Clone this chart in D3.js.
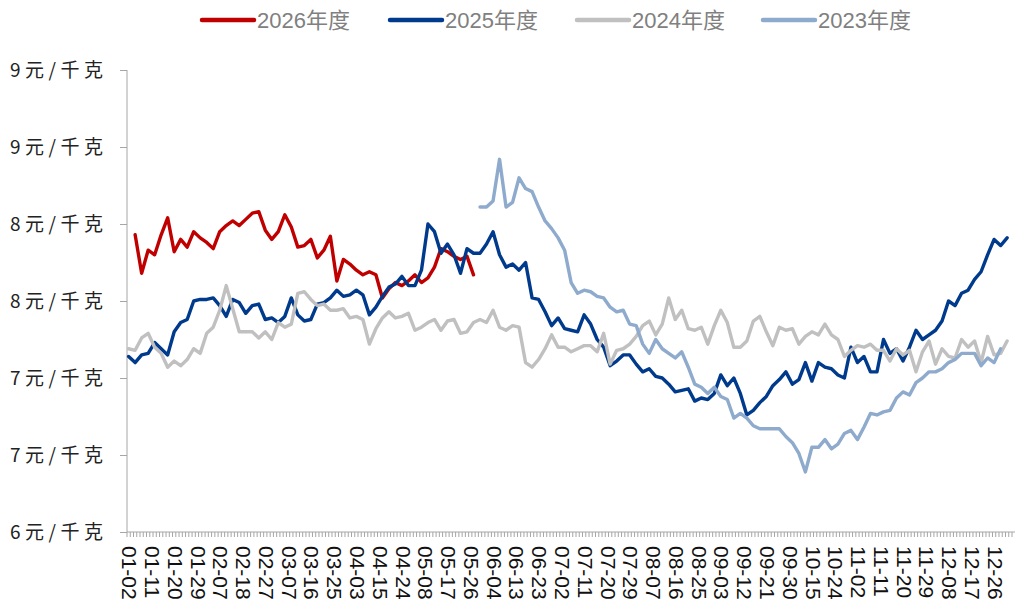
<!DOCTYPE html>
<html>
  <head>
    <meta charset="utf-8">
    <title>年度价格对比</title>
    <script src="https://cdn.jsdelivr.net/npm/d3@7/dist/d3.min.js"></script>
    <style>
      body { margin: 0; background: #fff; }
      svg { display: block; }
      .axis path, .axis line { stroke: #a6a6a6; }
      .yLabel { font-family: "Noto Sans CJK SC", sans-serif; font-size: 19px; fill: #222; letter-spacing: 4.5px; }
      .xLabel { font-family: "Liberation Sans", Arial, sans-serif; font-size: 21px; fill: #111; }
      .legendText { font-family: "Liberation Sans", Arial, sans-serif; font-size: 22px; fill: #808080; }
      .legendText tspan.cjk { font-family: "Noto Sans CJK SC", sans-serif; font-size: 22px; }
      .series { fill: none; stroke-width: 3.4; stroke-linejoin: round; stroke-linecap: round; }
    </style>
  </head>
  <body>
    <svg id="chart" width="1015" height="604"></svg>
    <script>
      // category axis: trading days, a label every 7th day
      const categoryCount = 272;
      const labelEvery = 7;
      const tickLabels = [
        "01-02", "01-11", "01-20", "01-29", "02-07", "02-18", "02-27", "03-07", "03-16", "03-25",
        "04-03", "04-15", "04-24", "05-08", "05-17", "05-26", "06-04", "06-13", "06-23", "07-02",
        "07-11", "07-20", "07-29", "08-07", "08-16", "08-25", "09-03", "09-12", "09-21", "09-30",
        "10-15", "10-24", "11-02", "11-11", "11-20", "11-29", "12-08", "12-17", "12-26"
      ];
      const yTicks = [6, 6.5, 7, 7.5, 8, 8.5, 9];
      const yUnit = "元/千克";

      // prices, one value every second trading day
      const sampleStep = 2;
      const seriesNames = ["2026年度", "2025年度", "2024年度", "2023年度"];
      const seriesColours = ["#c00000", "#003a8c", "#c0c0c0", "#8eaacc"];
      const seriesStart = [2, 0, 0, 108]; // first trading-day index of each year
      const prices2026 = [
        7.93, 7.68, 7.83, 7.80, 7.93, 8.04, 7.82, 7.90, 7.85, 7.95,
        7.91, 7.88, 7.84, 7.95, 7.99, 8.02, 7.99, 8.03, 8.07, 8.08,
        7.96, 7.90, 7.95, 8.06, 7.98, 7.85, 7.86, 7.90, 7.78, 7.83,
        7.92, 7.63, 7.77, 7.74, 7.70, 7.67, 7.69, 7.67, 7.52, 7.58,
        7.62, 7.60, 7.63, 7.67, 7.62, 7.65, 7.72, 7.84, 7.82, 7.79,
        7.77, 7.79, 7.67
      ];
      const prices2025 = [
        7.14, 7.10, 7.15, 7.16, 7.23, 7.19, 7.15, 7.30, 7.36, 7.38,
        7.50, 7.51, 7.51, 7.52, 7.47, 7.40, 7.51, 7.49, 7.42, 7.47,
        7.48, 7.38, 7.39, 7.36, 7.40, 7.52, 7.41, 7.37, 7.38, 7.48,
        7.49, 7.52, 7.57, 7.53, 7.54, 7.57, 7.54, 7.41, 7.46, 7.53,
        7.59, 7.61, 7.66, 7.60, 7.60, 7.70, 8.00, 7.95, 7.81, 7.87,
        7.80, 7.68, 7.84, 7.81, 7.81, 7.87, 7.95, 7.80, 7.72, 7.74,
        7.70, 7.75, 7.52, 7.51, 7.43, 7.34, 7.39, 7.32, 7.31, 7.30,
        7.41, 7.35, 7.25, 7.20, 7.08, 7.11, 7.15, 7.15, 7.09, 7.04,
        7.06, 7.01, 7.00, 6.96, 6.91, 6.92, 6.93, 6.85, 6.87, 6.86,
        6.90, 7.02, 6.95, 7.00, 6.90, 6.76, 6.79, 6.84, 6.88, 6.95,
        6.99, 7.04, 6.96, 6.99, 7.10, 6.98, 7.10, 7.07, 7.06, 7.02,
        7.00, 7.20, 7.10, 7.14, 7.04, 7.04, 7.25, 7.16, 7.19, 7.11,
        7.20, 7.31, 7.25, 7.28, 7.31, 7.37, 7.50, 7.47, 7.55, 7.57,
        7.64, 7.69, 7.80, 7.90, 7.86, 7.91
      ];
      const prices2024 = [
        7.19, 7.18, 7.26, 7.29, 7.20, 7.16, 7.07, 7.11, 7.08, 7.12,
        7.19, 7.16, 7.29, 7.33, 7.44, 7.60, 7.45, 7.30, 7.30, 7.30,
        7.26, 7.30, 7.25, 7.36, 7.33, 7.35, 7.55, 7.56, 7.51, 7.47,
        7.48, 7.44, 7.44, 7.45, 7.39, 7.40, 7.38, 7.22, 7.32, 7.39,
        7.43, 7.39, 7.40, 7.42, 7.31, 7.33, 7.36, 7.38, 7.31, 7.37,
        7.38, 7.29, 7.30, 7.36, 7.38, 7.36, 7.44, 7.33, 7.31, 7.34,
        7.33, 7.10, 7.07, 7.12, 7.19, 7.28, 7.20, 7.20, 7.17, 7.19,
        7.21, 7.21, 7.17, 7.29, 7.09, 7.18, 7.19, 7.22, 7.27, 7.34,
        7.37, 7.28, 7.35, 7.52, 7.38, 7.44, 7.32, 7.31, 7.33, 7.22,
        7.34, 7.44, 7.36, 7.20, 7.20, 7.24, 7.37, 7.40, 7.30, 7.21,
        7.33, 7.31, 7.32, 7.22, 7.27, 7.30, 7.28, 7.35, 7.28, 7.25,
        7.14, 7.18, 7.21, 7.20, 7.22, 7.18, 7.18, 7.11, 7.19, 7.15,
        7.18, 7.04, 7.17, 7.24, 7.09, 7.19, 7.14, 7.13, 7.25, 7.20,
        7.24, 7.10, 7.27, 7.15, 7.16, 7.24
      ];
      const prices2023 = [
        8.11, 8.11, 8.15, 8.42, 8.11, 8.14,
        8.30, 8.23, 8.21, 8.11, 8.02, 7.97, 7.91, 7.83, 7.62, 7.55,
        7.57, 7.56, 7.53, 7.52, 7.46, 7.43, 7.44, 7.35, 7.34, 7.22,
        7.16, 7.25, 7.19, 7.16, 7.13, 7.17, 7.07, 6.96, 6.94, 6.90,
        6.94, 6.88, 6.86, 6.74, 6.77, 6.74, 6.69, 6.67, 6.67, 6.67,
        6.67, 6.62, 6.58, 6.51, 6.39, 6.55, 6.55, 6.60, 6.54, 6.57,
        6.64, 6.66, 6.60, 6.68, 6.77, 6.76, 6.78, 6.79, 6.87, 6.91,
        6.89, 6.97, 7.00, 7.04, 7.04, 7.06, 7.10, 7.12, 7.16, 7.16,
        7.16, 7.08, 7.13, 7.10, 7.19
      ];
      const seriesValues = [prices2026, prices2025, prices2024, prices2023];

      // page elements
      svg = d3.select("#chart");
      margin = { top: 70, right: 3, bottom: 72, left: 127 };
      width = 1015;
      height = 604;

      x = d3.scaleLinear()
        .domain([0, categoryCount])
        .range([margin.left, width - margin.right]);
      y = d3.scaleLinear()
        .domain([6, 9])
        .range([height - margin.bottom, margin.top]);

      // y axis
      yAxis = d3.axisLeft(y)
        .tickValues(yTicks)
        .tickSize(7)
        .tickFormat(function(d) { return d3.format(".0f")(d) + yUnit; });
      yGroup = svg.append("g")
        .attr("class", "axis")
        .attr("transform", "translate(" + margin.left + ",0)")
        .call(yAxis);
      yGroup.select(".domain").attr("d", "M0," + y(9) + "V" + y(6));
      yGroup.selectAll("text")
        .attr("class", "yLabel")
        .attr("x", -19.5)
        .attr("dy", "0.35em");

      // x axis: a small tick between every trading day
      xGroup = svg.append("g")
        .attr("class", "axis")
        .attr("transform", "translate(0," + y(6) + ")");
      xGroup.append("line")
        .attr("x1", x(0))
        .attr("x2", width)
        .attr("y1", 0)
        .attr("y2", 0);
      xGroup.selectAll(".minor")
        .data(d3.range(categoryCount + 1))
        .enter().append("line")
          .attr("class", "minor")
          .attr("x1", function(d) { return x(d); })
          .attr("x2", function(d) { return x(d); })
          .attr("y1", 0)
          .attr("y2", 5);
      xGroup.selectAll(".xLabel")
        .data(tickLabels)
        .enter().append("text")
          .attr("class", "xLabel")
          .attr("transform", function(d, i) {
            return "translate(" + (x(i * labelEvery + 0.5) + 1) + ",14) rotate(90)";
          })
          .attr("dy", "0.35em")
          .text(function(d) { return d; });

      // lines
      line = d3.line()
        .x(function(d) { return x(d.index + 0.5); })
        .y(function(d) { return y(d.value); });
      seriesData = seriesNames.map(function(name, s) {
        return {
          name: name,
          colour: seriesColours[s],
          points: seriesValues[s].map(function(v, k) {
            return { index: seriesStart[s] + k * sampleStep, value: v };
          })
        };
      });
      svg.append("g")
        .selectAll("path")
        .data(seriesData)
        .enter().append("path")
          .attr("class", "series")
          .style("stroke", function(d) { return d.colour; })
          .attr("d", function(d) { return line(d.points); });

      // legend
      legendX = [200, 388, 575, 761];
      legend = svg.append("g");
      items = legend.selectAll("g")
        .data(seriesData)
        .enter().append("g")
          .attr("transform", function(d, i) { return "translate(" + legendX[i] + ",20)"; });
      items.append("line")
        .attr("x1", 2)
        .attr("x2", 54)
        .style("stroke", function(d) { return d.colour; })
        .style("stroke-width", 4.5)
        .style("stroke-linecap", "round");
      label = items.append("text")
        .attr("class", "legendText")
        .attr("x", 57)
        .attr("dy", "0.36em");
      label.append("tspan").text(function(d) { return d.name.slice(0, 4); });
      label.append("tspan").attr("class", "cjk").text(function(d) { return d.name.slice(4); });
    </script>
  </body>
</html>
